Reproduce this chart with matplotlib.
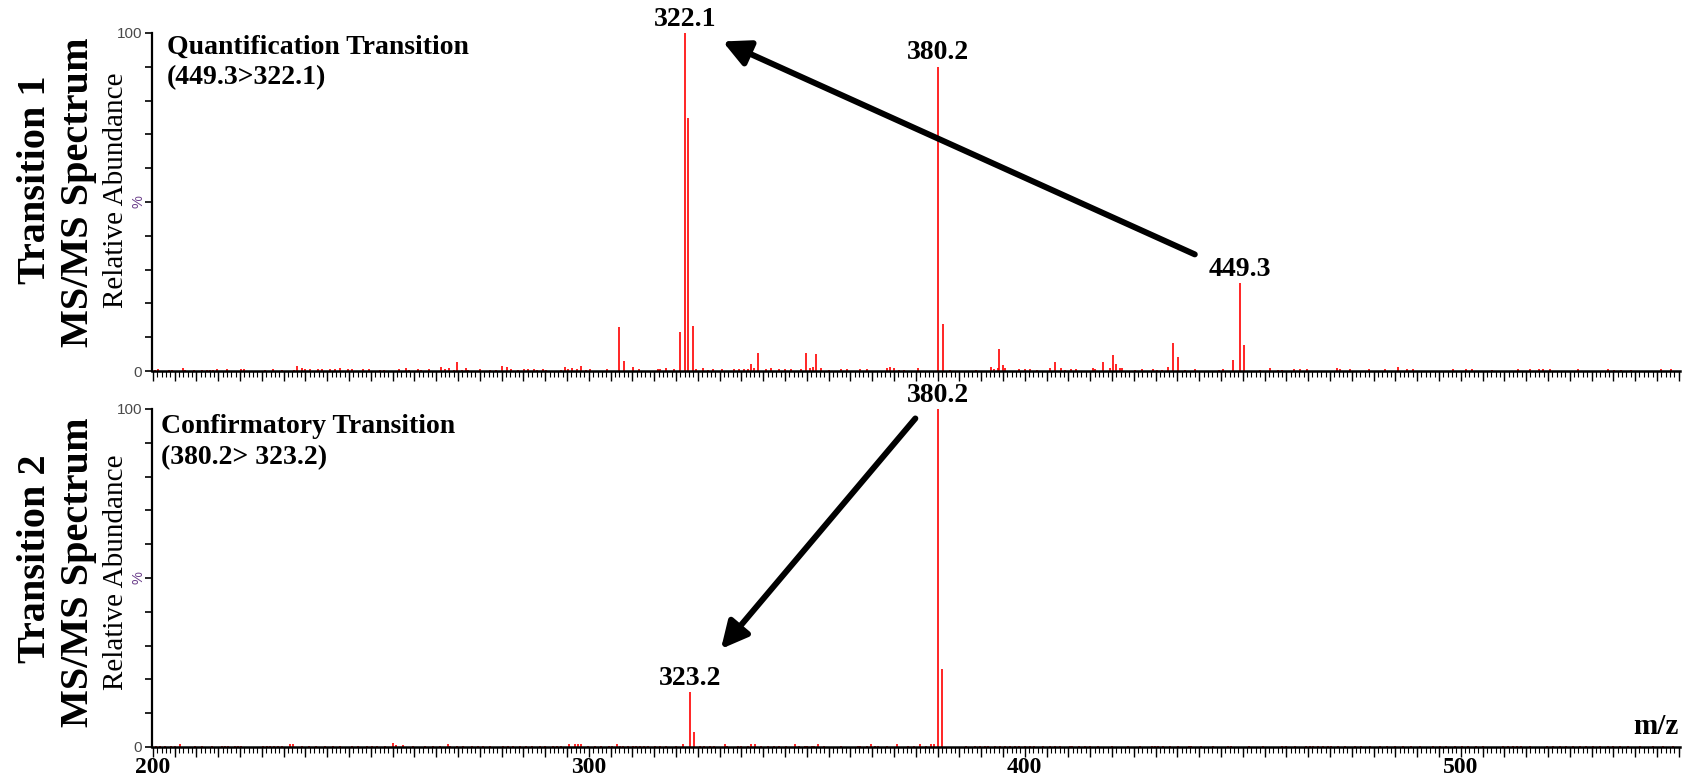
import matplotlib
matplotlib.use("Agg")
import matplotlib.pyplot as plt
from matplotlib.ticker import MultipleLocator

# ---- data: (m/z, relative abundance %) ----
top_mz = [200.5, 201.2, 203.7, 204.4, 206.8, 207.3, 209.4, 211.2, 212.5, 213.2,
          213.8, 214.7, 217.1, 220.3, 221.0, 225.8, 227.5, 229.6, 232.3, 233.0,
          234.1, 235.0, 236.0, 237.8, 238.7, 240.6, 241.7, 243.0, 244.7, 245.7,
          248.1, 249.5, 252.2, 253.0, 256.5, 258.0, 258.7, 260.9, 261.6, 263.4,
          266.2, 267.0, 268.0, 269.1, 269.7, 270.8, 271.8, 272.4, 275.0, 277.3,
          278.7, 280.0, 281.3, 282.1, 283.8, 285.2, 286.1, 287.5, 288.2, 289.5,
          290.1, 293.6, 294.5, 295.3, 296.2, 297.2, 298.3, 299.3, 300.2, 304.1,
          306.9, 308.1, 310.2, 311.5, 315.9, 316.3, 317.7, 319.6, 321.0, 322.1,
          322.8, 324.0, 324.5, 326.3, 327.3, 328.5, 330.5, 333.2, 334.4, 335.7,
          336.5, 337.2, 337.8, 338.8, 340.7, 341.7, 343.7, 345.0, 346.4, 348.6,
          349.9, 350.7, 351.5, 352.2, 353.2, 355.1, 357.9, 359.2, 362.2, 363.7,
          368.3, 369.0, 369.9, 371.2, 372.2, 375.4, 380.2, 381.2, 382.8, 388.8,
          392.2, 392.9, 393.8, 394.2, 395.0, 395.5, 398.6, 400.1, 401.2, 402.9,
          405.9, 406.9, 408.2, 409.3, 410.7, 411.7, 415.7, 416.2, 417.9, 419.5,
          420.2, 421.0, 421.8, 422.4, 425.2, 426.8, 429.3, 430.3, 431.5, 432.9,
          434.0, 435.1, 436.8, 439.0, 444.6, 445.5, 447.8, 449.3, 450.3, 453.9,
          456.2, 458.0, 458.9, 461.7, 463.1, 464.8, 471.6, 472.4, 474.7, 479.0,
          482.7, 485.6, 487.6, 489.0, 498.3, 501.1, 502.5, 507.1, 513.1, 515.9,
          518.0, 518.9, 520.4, 526.8, 533.7, 535.2, 536.8, 539.1, 546.0, 548.3]
top_int = [0.3, 0.6, 0.3, 0.3, 0.8, 0.3, 0.3, 0.3, 0.4, 0.4,
           0.4, 0.6, 0.6, 0.6, 0.6, 0.3, 0.6, 0.3, 0.4, 1.6,
           0.8, 0.6, 0.6, 0.6, 0.6, 0.6, 0.6, 0.8, 0.6, 0.6,
           0.6, 0.6, 0.4, 0.4, 0.6, 0.8, 0.4, 0.6, 0.4, 0.6,
           1.2, 0.6, 1.0, 0.4, 2.6, 0.4, 1.0, 0.4, 0.6, 0.4,
           0.4, 1.4, 1.2, 0.6, 0.4, 0.6, 0.6, 0.6, 0.4, 0.6,
           0.4, 0.4, 1.2, 0.6, 0.8, 0.6, 1.6, 0.4, 0.6, 0.6,
           12.9, 3.0, 1.2, 0.6, 0.5, 0.6, 0.9, 0.6, 11.6, 100.0,
           75.0, 13.3, 0.6, 0.9, 0.4, 0.6, 0.6, 0.6, 0.6, 0.6,
           0.6, 2.0, 0.9, 5.4, 0.6, 0.9, 0.6, 0.6, 0.6, 0.6,
           5.4, 1.0, 1.3, 5.1, 0.9, 0.4, 0.6, 0.6, 0.6, 0.6,
           0.9, 1.1, 0.8, 0.4, 0.4, 1.0, 90.0, 14.0, 0.4, 0.4,
           1.3, 0.6, 0.9, 6.5, 1.7, 0.9, 0.5, 0.6, 0.6, 0.3,
           1.0, 2.7, 1.0, 0.4, 0.5, 0.6, 1.0, 0.6, 2.8, 0.8,
           4.8, 2.0, 0.8, 0.8, 0.4, 0.6, 0.6, 0.4, 0.4, 1.2,
           8.4, 4.2, 0.4, 0.6, 0.4, 0.6, 3.4, 26.0, 7.7, 0.4,
           1.0, 0.4, 0.4, 0.6, 0.6, 0.5, 1.0, 0.6, 0.6, 0.6,
           0.5, 1.2, 0.5, 0.6, 0.6, 0.6, 0.6, 0.4, 0.6, 0.6,
           0.6, 0.6, 0.6, 0.6, 0.6, 0.4, 0.4, 0.4, 0.6, 0.6]

bot_mz = [200.8, 201.6, 202.8, 204.1, 205.0, 206.2, 209.6, 211.2, 213.5, 215.8,
          216.5, 217.3, 218.8, 219.6, 220.3, 225.3, 226.1, 226.8, 227.8, 228.7,
          229.7, 231.4, 232.2, 234.1, 235.8, 237.5, 239.4, 241.4, 242.9, 245.6,
          247.1, 249.2, 250.2, 251.3, 253.2, 255.0, 255.7, 257.4, 259.7, 262.4,
          264.3, 265.8, 267.6, 268.1, 269.7, 271.2, 273.1, 274.6, 275.8, 277.3,
          280.3, 281.5, 282.6, 284.2, 285.7, 286.9, 288.8, 289.9, 291.8, 292.6,
          293.7, 295.4, 296.8, 297.5, 298.3, 299.8, 301.4, 302.9, 304.7, 305.4,
          306.4, 307.1, 307.9, 309.0, 310.2, 310.9, 311.7, 312.6, 313.6, 315.1,
          316.3, 317.6, 320.1, 321.5, 323.2, 324.2, 325.5, 326.4, 327.9, 328.7,
          331.2, 331.7, 334.2, 335.0, 336.5, 337.2, 338.1, 339.6, 341.1, 342.4,
          343.6, 345.3, 347.2, 348.2, 349.5, 350.1, 351.1, 351.7, 352.6, 353.9,
          357.9, 361.8, 362.3, 363.7, 364.8, 365.6, 366.4, 368.3, 370.6, 373.2,
          374.5, 375.9, 377.3, 378.4, 379.2, 380.2, 381.0, 386.6, 388.5, 389.7,
          390.8, 391.6, 393.1, 394.3, 395.4, 396.6, 397.7, 398.7, 400.0, 401.1,
          402.1, 404.1, 405.7, 406.9, 408.0, 410.3, 410.9, 412.5, 413.8, 414.9,
          416.8, 419.9, 423.7, 426.4, 429.1, 429.8, 430.6, 431.7, 433.3, 435.2,
          437.7, 438.2, 440.5, 443.2, 446.6, 447.4, 451.4, 454.7, 459.1, 460.0,
          461.9, 464.6, 465.4, 466.1, 467.3, 468.4, 469.6, 470.3, 471.9, 473.4,
          475.7, 477.2, 479.1, 481.4, 483.0, 484.9, 486.8, 488.7, 490.6, 493.7,
          495.2, 496.7, 498.6, 500.2, 501.7, 503.6, 505.1, 509.7, 510.9, 512.0,
          512.9, 513.9, 515.8, 519.7, 521.2, 522.7, 524.2, 525.8, 527.3, 528.8,
          530.4, 531.9, 533.8, 535.0, 536.5, 538.4, 541.1, 544.1, 546.4, 548.7]
bot_int = [0.3, 0.4, 0.3, 0.3, 0.3, 0.8, 0.3, 0.3, 0.3, 0.3,
           0.3, 0.3, 0.3, 0.3, 0.3, 0.3, 0.3, 0.3, 0.3, 0.3,
           0.3, 1.0, 0.8, 0.3, 0.3, 0.3, 0.3, 0.3, 0.3, 0.3,
           0.3, 0.3, 0.3, 0.3, 0.3, 1.2, 0.6, 0.6, 0.3, 0.3,
           0.3, 0.3, 1.0, 0.4, 0.3, 0.3, 0.3, 0.3, 0.3, 0.3,
           0.3, 0.3, 0.3, 0.3, 0.3, 0.3, 0.3, 0.3, 0.3, 0.3,
           0.3, 1.0, 0.8, 1.0, 0.8, 0.3, 0.3, 0.3, 0.3, 0.3,
           0.8, 0.3, 0.3, 0.3, 0.3, 0.3, 0.3, 0.3, 0.3, 0.3,
           0.3, 0.3, 0.3, 0.8, 16.2, 4.5, 0.3, 0.3, 0.3, 0.3,
           0.8, 0.3, 0.3, 0.3, 0.3, 1.0, 1.0, 0.3, 0.3, 0.3,
           0.3, 0.3, 1.0, 0.4, 0.4, 0.4, 0.4, 0.4, 1.0, 0.3,
           0.3, 0.3, 0.3, 0.3, 0.8, 0.3, 0.3, 0.3, 0.8, 0.3,
           0.3, 0.8, 0.3, 0.8, 1.0, 100.0, 23.0, 0.3, 0.3, 0.3,
           0.3, 0.3, 0.3, 0.3, 0.3, 0.3, 0.3, 0.3, 0.3, 0.3,
           0.3, 0.3, 0.3, 0.3, 0.3, 0.3, 0.3, 0.3, 0.3, 0.3,
           0.3, 0.3, 0.3, 0.3, 0.3, 0.3, 0.3, 0.3, 0.3, 0.3,
           0.3, 0.3, 0.3, 0.3, 0.3, 0.3, 0.3, 0.3, 0.3, 0.3,
           0.3, 0.3, 0.3, 0.3, 0.3, 0.3, 0.3, 0.3, 0.3, 0.3,
           0.3, 0.3, 0.3, 0.3, 0.3, 0.3, 0.3, 0.3, 0.3, 0.3,
           0.3, 0.3, 0.3, 0.3, 0.3, 0.3, 0.3, 0.3, 0.3, 0.3,
           0.3, 0.3, 0.3, 0.3, 0.3, 0.3, 0.3, 0.3, 0.3, 0.3,
           0.3, 0.3, 0.3, 0.3, 0.3, 0.3, 0.3, 0.3, 0.3, 0.3]

top_labels = [(322.1, 100.0, "322.1"), (380.2, 90.0, "380.2"), (449.3, 26.0, "449.3")]
bot_labels = [(380.2, 100.0, "380.2"), (323.2, 16.2, "323.2")]

# arrows: (tail m/z, tail %), (head m/z, head %)
top_arrow = [(439.0, 34.5), (330.7, 97.5)]
bot_arrow = [(374.9, 97.2), (330.3, 29.0)]

top_title = "Quantification Transition\n(449.3>322.1)"
bot_title = "Confirmatory Transition\n(380.2> 323.2)"

SERIF = "Liberation Serif"
SANS = "Liberation Sans"

W, H = 1683, 779
fig = plt.figure(figsize=(W / 100, H / 100), dpi=100, facecolor="white")

x0, x1 = 152, 1680
ax_top = fig.add_axes([x0 / W, 1 - 371 / H, (x1 - x0) / W, 338 / H])
ax_bot = fig.add_axes([x0 / W, 1 - 747 / H, (x1 - x0) / W, 338 / H])


def style_axis(ax, show_xlabels):
    ax.set_xlim(199.8, 550.3)
    ax.set_ylim(0, 100)
    for s in ["top", "right"]:
        ax.spines[s].set_visible(False)
    ax.spines["left"].set_linewidth(1.6)
    ax.spines["bottom"].set_linewidth(1.8)
    ax.spines["bottom"].set_zorder(5)
    ax.set_yticks(range(0, 101, 10))
    ax.set_yticklabels(["0"] + [""] * 9 + ["100"], fontsize=11, family=SANS, color="#4a4a4a")
    ax.tick_params(axis="y", length=5, width=1.2, pad=2, direction="out")
    ax.text(-0.009, 0.5, "%", transform=ax.transAxes, rotation=90, fontsize=10.5,
            family=SANS, color="#6a3d8a", ha="center", va="center")
    ax.xaxis.set_major_locator(MultipleLocator(100))
    ax.xaxis.set_minor_locator(MultipleLocator(1))
    ax.tick_params(axis="x", which="major", length=7, width=1.0, pad=0.5)
    ax.tick_params(axis="x", which="minor", length=4, width=0.8)
    if show_xlabels:
        for lab in ax.get_xticklabels():
            lab.set_fontfamily(SERIF)
            lab.set_fontweight("bold")
            lab.set_fontsize(17)
    else:
        ax.set_xticklabels([])
    # mid-size ticks every 5 m/z
    sec = ax.secondary_xaxis("bottom")
    sec.set_xticks([v for v in range(205, 551, 5) if v % 100])
    sec.tick_params(length=7, width=1.0, labelbottom=False)
    sec.spines["bottom"].set_visible(False)


style_axis(ax_top, False)
style_axis(ax_bot, True)

ax_top.vlines(top_mz, 0, top_int, color="#ff0000", lw=1.2)
ax_bot.vlines(bot_mz, 0, bot_int, color="#ff0000", lw=1.2)

for ax, labs in ((ax_top, top_labels), (ax_bot, bot_labels)):
    for mz, val, txt in labs:
        ax.annotate(txt, xy=(mz, val), xytext=(0, 1), textcoords="offset points",
                    ha="center", va="bottom", fontsize=20, fontweight="bold",
                    family=SERIF, annotation_clip=False)

for ax, arr in ((ax_top, top_arrow), (ax_bot, bot_arrow)):
    ax.annotate("", xy=arr[1], xytext=arr[0], annotation_clip=False,
                arrowprops=dict(arrowstyle="-|>", lw=4.3, color="black",
                                mutation_scale=40, shrinkA=0, shrinkB=0))

ax_top.text(0.0098, 0.995, top_title, transform=ax_top.transAxes, ha="left", va="top",
            fontsize=20, fontweight="bold", family=SERIF, linespacing=1.3)
ax_bot.text(0.006, 0.985, bot_title, transform=ax_bot.transAxes, ha="left", va="top",
            fontsize=20, fontweight="bold", family=SERIF, linespacing=1.3)

ax_bot.text(0.999, 0.02, "m/z", transform=ax_bot.transAxes, ha="right", va="bottom",
            fontsize=21, fontweight="bold", family=SERIF)

# rotated side labels (baseline x in pixels, centre y in pixels)
side = [("Transition 1", 45, 180, 29, "bold"), ("MS/MS Spectrum", 88, 192, 29, "bold"),
        ("Relative Abundance", 123, 190, 21, "normal"),
        ("Transition 2", 45, 559, 29, "bold"), ("MS/MS Spectrum", 88, 572, 29, "bold"),
        ("Relative Abundance", 123, 572, 21, "normal")]
for txt, bx, cy, fs, fw in side:
    fig.text(bx / W, 1 - cy / H, txt, rotation=90, rotation_mode="anchor",
             ha="center", va="baseline", fontsize=fs, fontweight=fw, family=SERIF)

fig.savefig("out.png", dpi=100, facecolor="white")
